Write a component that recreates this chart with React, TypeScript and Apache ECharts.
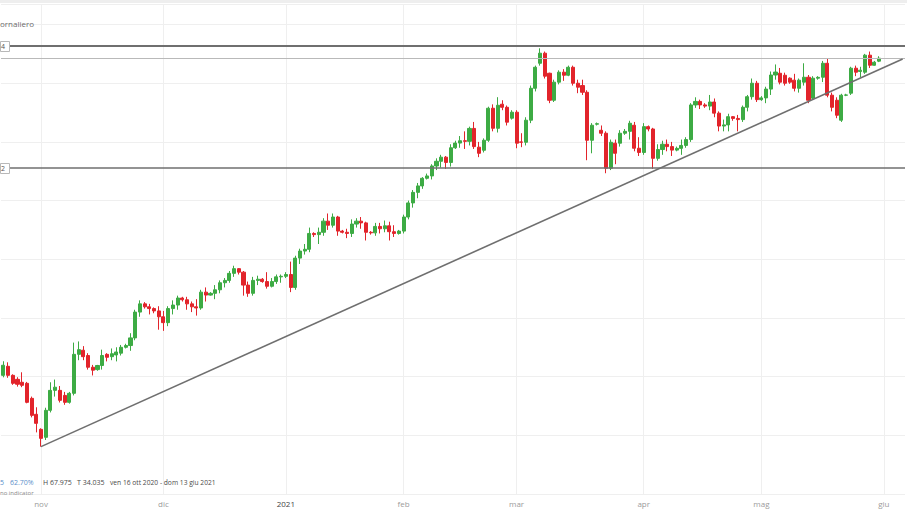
import React, { useEffect, useRef } from "react";
import * as echarts from "echarts";

// Daily candles, rows: [day, open, close, low, high]
const OCT_2020 = [
  [22, 40.11, 40.97, 39.94, 41.31], [23, 40.88, 40.11, 39.9, 41.22], [25, 40.11, 39.43, 39.3, 40.2],
  [26, 39.77, 39.35, 39.15, 39.95], [27, 39.52, 39.26, 39.1, 40.37], [28, 39.43, 37.81, 37.73, 39.55],
  [29, 38.15, 36.7, 36.53, 38.3], [30, 36.79, 36.02, 35.25, 37.39],
];
const NOV_2020 = [
  [1, 35.51, 34.74, 34.035, 35.6], [2, 34.83, 37.13, 34.6, 37.35], [3, 37.13, 38.83, 36.95, 39.52],
  [4, 38.83, 39.1, 38.3, 39.75], [5, 38.83, 37.98, 37.8, 39.2], [6, 38.4, 37.81, 37.6, 38.7],
  [8, 37.81, 38.58, 37.7, 38.7], [9, 38.58, 41.9, 38.4, 42.9], [10, 41.9, 42.3, 41.4, 43.0],
  [11, 42.25, 41.7, 41.4, 42.6], [12, 41.8, 40.8, 40.6, 42.0], [13, 40.8, 40.55, 40.1, 41.0],
  [15, 40.6, 40.95, 40.5, 41.0], [16, 40.95, 41.8, 40.6, 42.3], [17, 41.9, 41.65, 41.3, 42.0],
  [18, 41.7, 41.95, 41.4, 42.4], [19, 41.85, 42.1, 41.3, 42.5], [20, 42.0, 42.5, 41.8, 42.7],
  [22, 42.5, 42.65, 42.4, 42.8], [23, 42.65, 43.3, 42.2, 43.7], [24, 43.3, 45.5, 43.1, 45.7],
  [25, 45.5, 46.2, 45.1, 46.5], [26, 46.2, 45.95, 45.8, 46.35], [27, 45.95, 45.8, 45.3, 46.2],
  [29, 45.8, 45.6, 45.4, 45.9], [30, 45.6, 45.1, 44.0, 46.0],
];
const DEC_2020 = [
  [1, 45.1, 44.6, 43.9, 45.6], [2, 44.6, 45.8, 44.3, 46.0], [3, 45.8, 46.1, 45.3, 46.5],
  [4, 46.1, 46.7, 45.7, 46.9], [6, 46.7, 46.55, 46.4, 46.8], [7, 46.55, 46.2, 45.7, 46.8],
  [8, 46.2, 45.95, 45.5, 46.4], [9, 45.95, 45.85, 45.2, 46.6], [10, 45.85, 47.2, 45.7, 47.4],
  [11, 47.2, 46.95, 46.4, 47.6], [13, 46.95, 47.1, 46.9, 47.2], [14, 47.1, 47.4, 46.6, 47.8],
  [15, 47.4, 48.0, 47.1, 48.2], [16, 48.0, 48.2, 47.6, 48.4], [17, 48.2, 48.8, 48.0, 49.0],
  [18, 48.8, 49.2, 48.5, 49.45], [20, 49.2, 48.9, 48.7, 49.25], [21, 48.9, 47.8, 46.9, 49.0],
  [22, 47.8, 47.1, 46.8, 48.1], [23, 47.1, 48.2, 46.9, 48.5], [24, 48.2, 48.3, 47.8, 48.6],
  [27, 48.3, 48.1, 48.0, 48.4], [28, 48.1, 47.7, 47.5, 48.9], [29, 47.7, 48.1, 47.6, 48.4],
  [30, 48.1, 48.5, 47.9, 48.7], [31, 48.5, 48.55, 48.0, 48.7],
];
const JAN_2021 = [
  [3, 48.55, 48.7, 48.4, 48.9], [4, 48.7, 47.6, 47.2, 49.8], [5, 47.6, 50.1, 47.4, 50.3],
  [6, 50.1, 50.7, 49.6, 50.9], [7, 50.7, 50.85, 50.4, 51.3], [8, 50.85, 52.2, 50.6, 52.7],
  [10, 52.2, 52.1, 51.9, 52.3], [11, 52.1, 52.3, 51.3, 52.7], [12, 52.3, 53.25, 52.0, 53.5],
  [13, 53.25, 52.9, 52.5, 53.9], [14, 52.9, 53.6, 52.7, 53.9], [15, 53.6, 52.4, 52.0, 53.7],
  [17, 52.4, 52.3, 52.2, 52.5], [18, 52.3, 52.2, 51.8, 52.6], [19, 52.2, 53.0, 51.9, 53.4],
  [20, 53.0, 53.25, 52.7, 53.5], [21, 53.25, 53.1, 52.6, 53.6], [22, 53.1, 52.3, 51.6, 53.2],
  [24, 52.3, 52.25, 52.1, 52.4], [25, 52.25, 52.8, 52.0, 53.1], [26, 52.8, 52.6, 52.2, 53.1],
  [27, 52.6, 52.85, 52.3, 53.3], [28, 52.85, 52.35, 51.6, 53.2], [29, 52.35, 52.2, 51.9, 52.9],
  [31, 52.2, 52.4, 52.1, 52.5],
];
const FEB_2021 = [
  [1, 52.4, 53.6, 52.2, 53.8], [2, 53.6, 54.8, 53.4, 55.0], [3, 54.8, 55.7, 54.4, 55.9],
  [4, 55.7, 56.25, 55.2, 56.5], [5, 56.25, 56.9, 56.0, 57.0], [7, 56.9, 57.1, 56.8, 57.3],
  [8, 57.1, 57.95, 56.8, 58.1], [9, 57.95, 58.35, 57.6, 58.6], [10, 58.35, 58.7, 57.8, 58.9],
  [11, 58.7, 58.25, 57.7, 58.8], [12, 58.25, 59.5, 57.9, 59.8], [14, 59.5, 59.9, 59.4, 60.1],
  [15, 59.9, 60.1, 59.5, 60.5], [16, 60.1, 60.05, 59.4, 60.9], [17, 60.05, 61.15, 59.7, 61.3],
  [18, 61.15, 59.6, 59.4, 61.7], [19, 59.55, 59.03, 58.7, 60.0], [21, 59.29, 60.14, 59.1, 60.3],
  [22, 60.14, 62.87, 60.0, 63.0], [23, 62.87, 61.16, 60.9, 63.2], [24, 61.16, 63.12, 60.8, 63.81],
  [25, 63.21, 62.95, 62.7, 63.55], [26, 62.95, 61.68, 61.4, 63.1], [28, 62.02, 62.53, 61.9, 62.7],
];
const MAR_2021 = [
  [1, 62.53, 59.89, 59.46, 62.7], [2, 60.0, 59.97, 59.55, 60.74], [3, 59.97, 61.85, 59.7, 62.1],
  [4, 61.85, 64.57, 61.6, 64.8], [5, 64.57, 66.36, 64.3, 66.5], [7, 66.7, 67.56, 66.5, 67.975],
  [8, 67.56, 65.6, 65.4, 67.7], [9, 65.85, 63.55, 63.3, 65.9], [10, 63.55, 65.09, 63.4, 65.3],
  [11, 65.09, 65.94, 64.9, 66.1], [12, 65.94, 65.68, 65.2, 66.2], [14, 65.68, 66.36, 65.6, 66.5],
  [15, 66.36, 65.0, 64.8, 66.5], [16, 65.0, 64.66, 64.15, 65.3], [17, 64.8, 64.23, 64.0, 65.3],
  [18, 64.23, 60.14, 58.44, 64.4], [19, 60.14, 61.42, 59.03, 61.6], [21, 61.51, 61.55, 61.4, 61.65],
  [22, 60.99, 60.74, 60.5, 61.4], [23, 60.74, 57.76, 57.33, 60.9], [24, 57.76, 59.97, 57.6, 60.2],
  [25, 59.89, 59.03, 58.1, 60.2], [26, 59.89, 60.74, 59.6, 61.0], [28, 60.74, 60.9, 60.6, 61.1],
  [29, 60.9, 61.59, 60.2, 61.8], [30, 61.42, 59.46, 59.2, 61.7], [31, 59.46, 59.1, 58.8, 60.4],
];
const APR_2021 = [
  [1, 59.1, 61.3, 58.9, 61.6], [4, 61.3, 61.1, 60.9, 61.4], [5, 61.1, 58.6, 57.7, 61.2],
  [6, 58.6, 59.35, 58.4, 59.8], [7, 59.35, 59.8, 58.9, 60.1], [8, 59.8, 59.6, 59.2, 60.2],
  [9, 59.6, 59.3, 58.8, 60.0], [11, 59.3, 59.45, 59.2, 59.6], [12, 59.45, 59.7, 58.9, 60.2],
  [13, 59.7, 60.2, 59.5, 60.4], [14, 60.2, 63.15, 60.0, 63.3], [15, 63.15, 63.45, 62.9, 63.8],
  [16, 63.45, 63.15, 62.8, 63.6], [18, 63.15, 63.05, 62.9, 63.3], [19, 63.05, 63.4, 62.7, 64.0],
  [20, 63.4, 62.45, 62.1, 63.7], [21, 62.45, 61.35, 60.9, 62.6], [22, 61.35, 61.45, 60.9, 61.9],
  [23, 61.45, 62.15, 60.9, 62.4], [25, 62.15, 62.0, 61.8, 62.2], [26, 62.0, 61.9, 60.9, 62.3],
  [27, 61.9, 62.95, 61.7, 63.1], [28, 62.95, 63.85, 62.6, 64.0], [29, 63.85, 65.0, 63.6, 65.4],
  [30, 65.0, 63.6, 63.4, 65.2],
];
const MAY_2021 = [
  [2, 63.6, 63.75, 63.5, 63.9], [3, 63.75, 64.5, 63.3, 64.7], [4, 64.5, 65.7, 64.0, 66.0],
  [5, 65.7, 65.95, 65.3, 66.6], [6, 65.85, 65.09, 64.9, 66.3], [7, 65.68, 65.0, 64.8, 65.9],
  [9, 65.43, 65.09, 64.95, 65.5], [10, 65.26, 64.57, 64.3, 65.8], [11, 64.57, 65.26, 64.2, 65.4],
  [12, 65.09, 65.51, 64.8, 66.7], [13, 65.51, 63.55, 63.3, 65.7], [14, 63.72, 65.43, 63.6, 65.6],
  [16, 65.43, 65.5, 65.3, 65.6], [17, 65.51, 66.7, 65.1, 66.9], [18, 66.7, 63.98, 63.8, 67.13],
  [19, 63.98, 62.95, 62.6, 64.2], [20, 63.55, 62.27, 62.02, 63.8], [21, 61.85, 63.98, 61.7, 64.1],
  [23, 63.98, 64.0, 63.9, 64.1], [24, 64.15, 66.28, 64.0, 66.4], [25, 66.28, 65.94, 65.6, 66.5],
  [26, 66.0, 66.11, 65.5, 66.4], [27, 65.94, 67.39, 65.8, 67.5], [28, 67.39, 66.53, 66.3, 67.7],
  [30, 66.53, 66.79, 66.5, 66.9], [31, 66.88, 67.13, 66.8, 67.3],
];
// trading days after the last candle (empty slots)
const JUN_2021_EMPTY_DAYS = [1, 2, 3, 4, 6];

const MONTHS: [number, number, number[][]][] = [
  [2020, 10, OCT_2020], [2020, 11, NOV_2020], [2020, 12, DEC_2020], [2021, 1, JAN_2021],
  [2021, 2, FEB_2021], [2021, 3, MAR_2021], [2021, 4, APR_2021], [2021, 5, MAY_2021],
];

const MONTH_NAMES: Record<number, string> = {
  1: "2021", 2: "feb", 3: "mar", 4: "apr", 5: "mag", 6: "giu", 10: "ott", 11: "nov", 12: "dic",
};

const RESISTANCE = 68.17;
const SUPPORT = 57.78;
const TREND_START: [string, number] = ["2020-11-01", 34.035];
const TREND_END: [string, number] = ["2021-06-06", 67.06];
const Y_MIN = 30;
const Y_MAX = 71.75;
const Y_STEP = 5;

const HEADER_TEXT = "ornaliero";
const RES_LABEL = "4";
const SUP_LABEL = "2";
const STATS = { change: "5", pct: "62.70%", high: "H 67.975", low: "T 34.035", range: "ven 16 ott 2020 - dom 13 giu 2021", note: "no indicator" };

const pad = (n: number) => String(n).padStart(2, "0");

const DATES: string[] = [];
const OHLC: any[] = [];
for (const [y, m, rows] of MONTHS) {
  for (const r of rows) {
    DATES.push(`${y}-${pad(m)}-${pad(r[0])}`);
    OHLC.push([r[1], r[2], r[3], r[4]]);
  }
}
for (const d of JUN_2021_EMPTY_DAYS) {
  DATES.push(`2021-06-${pad(d)}`);
  OHLC.push("-");
}
const monthOf = (s: string) => Number(s.slice(5, 7));
const MONTH_START = new Set<number>();
DATES.forEach((d, i) => {
  if (i > 0 && monthOf(d) !== monthOf(DATES[i - 1])) MONTH_START.add(i);
});
const LAST_CLOSE = MAY_2021[MAY_2021.length - 1][2];

const GREEN = "#3dab44";
const RED = "#e2242b";
const FONT = '"Open Sans", "Noto Sans", sans-serif';

export default function App() {
  const ref = useRef<HTMLDivElement>(null);
  useEffect(() => {
    if (!ref.current) return;
    const chart = echarts.init(ref.current, undefined, { renderer: "svg" });
    const lineGray = "#6f6f6f";
    chart.setOption({
      animation: false,
      backgroundColor: "#ffffff",
      textStyle: { fontFamily: FONT },
      grid: { left: 1, right: 2, top: 4, bottom: 15 },
      xAxis: {
        type: "category",
        data: DATES,
        boundaryGap: true,
        axisLine: { show: false },
        axisTick: { show: false },
        axisLabel: {
          interval: (i: number) => MONTH_START.has(i),
          margin: 5,
          fontSize: 8,
          color: "#9b9b9b",
          formatter: (v: string) => {
            const m = monthOf(v);
            return m === 1 ? `{yr|${MONTH_NAMES[m]}}` : MONTH_NAMES[m];
          },
          rich: { yr: { color: "#444", fontSize: 8, fontFamily: FONT } },
        },
        splitLine: {
          show: true,
          interval: (i: number) => MONTH_START.has(i),
          alignWithLabel: true,
          lineStyle: { color: "#efefef", width: 1 },
        },
      },
      yAxis: {
        type: "value",
        min: Y_MIN,
        max: Y_MAX,
        interval: Y_STEP,
        axisLine: { show: false },
        axisTick: { show: false },
        axisLabel: { show: false },
        splitLine: { show: true, lineStyle: { color: "#efefef", width: 1 } },
      },
      series: [
        {
          type: "candlestick",
          data: OHLC,
          barWidth: 3.6,
          itemStyle: { color: GREEN, color0: RED, borderColor: GREEN, borderColor0: RED, borderWidth: 1 },
          markLine: {
            silent: true,
            symbol: ["none", "none"],
            label: { show: false },
            animation: false,
            data: [
              { yAxis: LAST_CLOSE, lineStyle: { color: "#b9b9b9", width: 1, type: "solid" } },
              { yAxis: RESISTANCE, lineStyle: { color: lineGray, width: 2, type: "solid" } },
              { yAxis: SUPPORT, lineStyle: { color: lineGray, width: 1.6, type: "solid" } },
              [
                { coord: TREND_START, lineStyle: { color: lineGray, width: 1.6, type: "solid" } },
                { coord: TREND_END },
              ],
            ],
          },
        },
      ],
    });

    const yRes = chart.convertToPixel({ yAxisIndex: 0 }, RESISTANCE) as number;
    const ySup = chart.convertToPixel({ yAxisIndex: 0 }, SUPPORT) as number;
    const box = (yc: number, t: string) => [
      { type: "rect", z: 100, shape: { x: 0.5, y: Math.round(yc) - 4.5, width: 9, height: 10 }, style: { fill: "#fff", stroke: "#b8b8b8", lineWidth: 1 } },
      { type: "text", z: 101, x: 5, y: yc + 0.5, style: { text: t, fill: "#555", font: `7px ${FONT}`, align: "right", verticalAlign: "middle" } },
    ];
    const txt = (x: number, y: number, t: string, fill: string, size: number) => ({
      type: "text", z: 101, x, y, style: { text: t, fill, font: `${size}px ${FONT}`, verticalAlign: "middle" },
    });
    chart.setOption({
      graphic: [
        { type: "rect", z: 99, shape: { x: 0, y: 0, width: 907, height: 3 }, style: { fill: "#eeeeee" } },
        ...box(yRes, RES_LABEL),
        ...box(ySup, SUP_LABEL),
        txt(0, 23.5, HEADER_TEXT, "#6b6b6b", 8),
        txt(0, 482, STATS.change, "#5b8fca", 7),
        txt(10, 482, STATS.pct, "#5b8fca", 7),
        txt(43, 482, STATS.high, "#4a4a4a", 7),
        txt(77, 482, STATS.low, "#4a4a4a", 7),
        txt(110, 482, STATS.range, "#4a4a4a", 6.7),
        txt(0, 492.5, STATS.note, "#8a8a8a", 6),
      ],
    });
    return () => chart.dispose();
  }, []);
  return <div ref={ref} style={{ position: "fixed", left: 0, top: 0, width: 907, height: 509 }} />;
}
